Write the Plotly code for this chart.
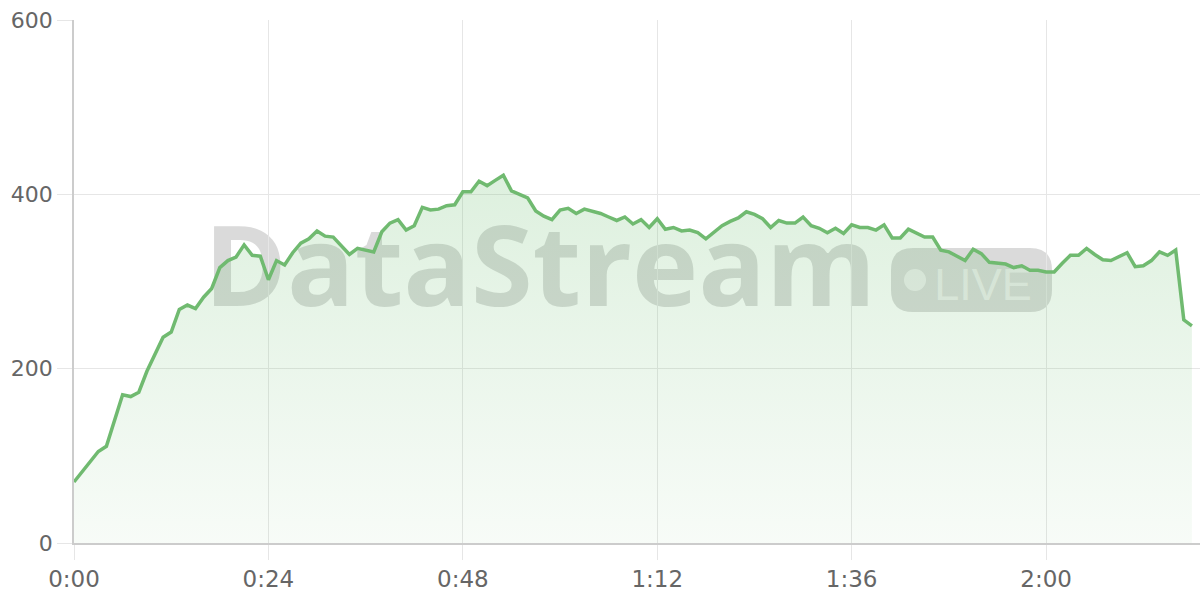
import plotly.graph_objects as go

# ---- data (minutes since start, value) ----
minutes = list(range(0, 139))
values = [
    70, 82, 94, 105, 111, 140, 170, 168, 173, 197,
    217, 236, 242, 268, 273, 269, 282, 292, 316, 324,
    328, 342, 330, 329, 302, 324, 319, 333, 344, 349,
    358, 352, 351, 341, 331, 338, 336, 334, 357, 367,
    371, 359, 364, 385, 382, 383, 387, 388, 403, 403,
    415, 410, 416, 422, 404, 400, 396, 381, 375, 371,
    382, 384, 378, 383, 381, 378, 374, 370, 374, 366,
    371, 362, 372, 360, 362, 358, 359, 356, 349, 357,
    364, 369, 373, 380, 377, 372, 362, 370, 367, 367,
    374, 364, 361, 356, 361, 355, 365, 362, 362, 359,
    365, 350, 350, 360, 355, 351, 351, 336, 334, 329,
    324, 337, 332, 322, 321, 320, 316, 318, 313, 313,
    311, 311, 321, 330, 330, 338, 331, 325, 324, 329,
    333, 317, 318, 324, 334, 330, 336, 256, 249,
]
x_tickvals = [0, 24, 48, 72, 96, 120]
x_ticktext = ["0:00", "0:24", "0:48", "1:12", "1:36", "2:00"]
y_tickvals = [0, 200, 400, 600]

W, H = 1200, 600
ML, MR, MT, MB = 74, 0, 20, 57
PW, PH = W - ML - MR, H - MT - MB


def px(x):
    return (x - ML) / PW


def py(y):
    return (H - MB - y) / PH


LINE = "rgb(112,186,112)"
WM_FONT = "Open Sans"
TICK_FONT = "DejaVu Sans"

fig = go.Figure()
fig.add_trace(go.Scatter(
    x=minutes, y=values, mode="lines",
    line=dict(color=LINE, width=3.5),
    fill="tozeroy",
    fillgradient=dict(
        type="vertical",
        colorscale=[[0, "rgba(102,187,106,0.05)"], [1, "rgba(102,187,106,0.22)"]],
        start=0, stop=422,
    ),
    hoverinfo="skip",
    cliponaxis=False,
))

# ---- watermark (below traces) ----
wm_gray = "rgba(120,120,120,0.27)"
r = 22  # px corner radius
x0p, x1p, y0p, y1p = 891, 1052, 248, 312


def P(x, y):
    return f"{px(x):.5f},{py(y):.5f}"


pill_path = (
    f"M {P(x0p + r, y0p)} L {P(x1p - r, y0p)} Q {P(x1p, y0p)} {P(x1p, y0p + r)} "
    f"L {P(x1p, y1p - r)} Q {P(x1p, y1p)} {P(x1p - r, y1p)} "
    f"L {P(x0p + r, y1p)} Q {P(x0p, y1p)} {P(x0p, y1p - r)} "
    f"L {P(x0p, y0p + r)} Q {P(x0p, y0p)} {P(x0p + r, y0p)} Z"
)

shapes = [
    dict(type="rect", xref="paper", yref="paper", layer="below",
         x0=px(180), x1=px(900), y0=py(320), y1=py(220),
         line=dict(width=0), fillcolor="rgba(0,0,0,0)",
         label=dict(text="<b>DataStream</b>", textposition="middle center",
                    font=dict(size=112, color=wm_gray, family=WM_FONT))),
    dict(type="path", xref="paper", yref="paper", layer="below",
         path=pill_path, line=dict(width=0), fillcolor=wm_gray),
    dict(type="circle", xref="paper", yref="paper", layer="below",
         x0=px(904), x1=px(926), y0=py(291), y1=py(269),
         line=dict(width=0), fillcolor="rgba(255,255,255,0.55)"),
    dict(type="rect", xref="paper", yref="paper", layer="below",
         x0=px(932), x1=px(1034), y0=py(306), y1=py(254),
         line=dict(width=0), fillcolor="rgba(0,0,0,0)",
         label=dict(text="LIVE", textposition="middle center",
                    font=dict(size=45, color="rgba(255,255,255,0.55)", family="Liberation Sans"))),
]

fig.update_layout(
    width=W, height=H,
    margin=dict(l=ML, r=MR, t=MT, b=MB, autoexpand=False),
    paper_bgcolor="white", plot_bgcolor="white",
    showlegend=False,
    shapes=shapes,
    font=dict(family=TICK_FONT, color="#666666"),
)
fig.update_xaxes(
    range=[0, 139], tickvals=x_tickvals, ticktext=x_ticktext,
    showgrid=True, gridcolor="#e6e6e6", gridwidth=1,
    showline=True, linecolor="#cccccc", linewidth=1.5,
    ticks="outside", ticklen=15, tickcolor="#e6e6e6",
    tickfont=dict(size=23, color="#666666", family=TICK_FONT), zeroline=False,
    automargin=False,
)
fig.update_yaxes(
    range=[0, 600], tickvals=y_tickvals,
    showgrid=True, gridcolor="#e6e6e6", gridwidth=1,
    showline=True, linecolor="#cccccc", linewidth=1.5,
    ticks="outside", ticklen=15, tickcolor="#e6e6e6",
    tickfont=dict(size=22, color="#666666", family=TICK_FONT), zeroline=False,
    automargin=False,
)

fig.write_html("out.html", config={"displayModeBar": False},
               post_script="document.body.style.margin='0';")
